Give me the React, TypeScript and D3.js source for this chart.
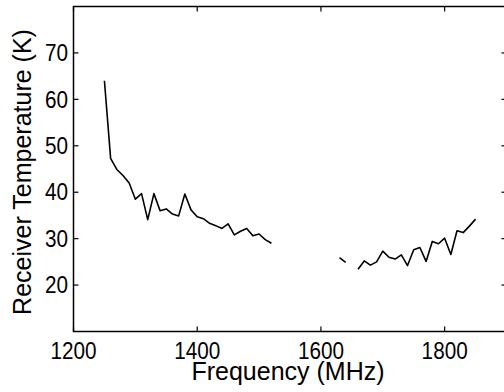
import React, { useRef, useEffect } from 'react';
import * as d3 from 'd3';

// frequency (MHz) and receiver temperature (K); null marks a gap in the measurement
const freqs = [
  1250, 1260, 1270, 1280, 1290, 1300, 1310, 1320, 1330, 1340, 1350, 1360, 1370, 1380,
  1390, 1400, 1410, 1420, 1430, 1440, 1450, 1460, 1470, 1480, 1490, 1500, 1510, 1520,
  1530, 1630, 1640, 1650, 1660, 1670, 1680, 1690, 1700, 1710, 1720, 1730, 1740, 1750,
  1760, 1770, 1780, 1790, 1800, 1810, 1820, 1830, 1840, 1850,
];
const temps: (number | null)[] = [
  64.0, 47.3, 44.9, 43.6, 42.0, 38.5, 39.7, 34.1, 39.7, 36.0, 36.4, 35.3, 34.9, 39.6,
  36.2, 34.7, 34.3, 33.3, 32.8, 32.2, 33.2, 30.8, 31.6, 32.2, 30.6, 31.0, 29.8, 29.0,
  null, 25.9, 24.9, null, 23.4, 25.2, 24.3, 25.0, 27.3, 26.0, 25.6, 26.5, 24.2, 27.6,
  28.1, 25.1, 29.4, 28.9, 30.1, 26.6, 31.7, 31.3, 32.7, 34.2,
];

const xTicks = [1200, 1400, 1600, 1800];
const yTicks = [20, 30, 40, 50, 60, 70];

const width = 504;
const height = 392;
const font = '"Liberation Sans", Arial, Helvetica, sans-serif';

const App = () => {
  const svgRef = useRef<SVGSVGElement>(null);

  useEffect(() => {
    const margin = { top: 6.5, right: -2.5, bottom: 60.5, left: 73.5 };
    const innerWidth = width - margin.left - margin.right;
    const innerHeight = height - margin.top - margin.bottom;

    const root = d3.select(svgRef.current);
    root.selectAll('*').remove();

    const svg = root.append('g')
      .attr('transform', `translate(${margin.left},${margin.top})`);

    const x = d3.scaleLinear().domain([1200, 1900]).range([0, innerWidth]);
    const y = d3.scaleLinear().domain([10, 80]).range([innerHeight, 0]);

    // box
    svg.append('rect')
      .attr('width', innerWidth)
      .attr('height', innerHeight)
      .attr('fill', 'none')
      .attr('stroke', '#000')
      .attr('stroke-width', 1.5);

    // ticks pointing inward on all sides
    const tickLen = 5;
    xTicks.forEach(t => {
      svg.append('line')
        .attr('x1', x(t)).attr('x2', x(t))
        .attr('y1', innerHeight).attr('y2', innerHeight - tickLen)
        .attr('stroke', '#000').attr('stroke-width', 1.2);
      svg.append('line')
        .attr('x1', x(t)).attr('x2', x(t))
        .attr('y1', 0).attr('y2', tickLen)
        .attr('stroke', '#000').attr('stroke-width', 1.2);
      svg.append('text')
        .attr('x', x(t))
        .attr('y', innerHeight + 27.5)
        .attr('text-anchor', 'middle')
        .attr('font-family', font)
        .attr('font-size', 23)
        .attr('transform', `translate(${x(t)},0) scale(0.9,1) translate(${-x(t)},0)`)
        .text(t);
    });
    yTicks.forEach(t => {
      svg.append('line')
        .attr('x1', 0).attr('x2', tickLen)
        .attr('y1', y(t)).attr('y2', y(t))
        .attr('stroke', '#000').attr('stroke-width', 1.2);
      svg.append('line')
        .attr('x1', innerWidth).attr('x2', innerWidth - tickLen)
        .attr('y1', y(t)).attr('y2', y(t))
        .attr('stroke', '#000').attr('stroke-width', 1.2);
      svg.append('text')
        .attr('x', -5.5)
        .attr('y', y(t))
        .attr('dy', '0.36em')
        .attr('text-anchor', 'end')
        .attr('font-family', font)
        .attr('font-size', 23)
        .attr('transform', `translate(-5.5,0) scale(0.9,1) translate(5.5,0)`)
        .text(t);
    });

    // the curve
    const data = freqs.map((f, i) => ({ f, t: temps[i] }));
    svg.append('path')
      .datum(data)
      .attr('fill', 'none')
      .attr('stroke', '#000')
      .attr('stroke-width', 1.6)
      .attr('stroke-linejoin', 'round')
      .attr('d', d3.line<{ f: number; t: number | null }>()
        .defined(d => d.t !== null)
        .x(d => x(d.f))
        .y(d => y(d.t as number)));

    // axis labels
    svg.append('text')
      .attr('x', (x(1200) + x(1900)) / 2 - 2)
      .attr('y', innerHeight + 48.5)
      .attr('text-anchor', 'middle')
      .attr('font-family', font)
      .attr('font-size', 25)
      .text('Frequency (MHz)');

    svg.append('text')
      .attr('transform', `translate(${31 - margin.left},${innerHeight / 2 + 3}) rotate(-90)`)
      .attr('text-anchor', 'middle')
      .attr('font-family', font)
      .attr('font-size', 25)
      .text('Receiver Temperature (K)');
  }, []);

  return (
    <svg
      ref={svgRef}
      width={width}
      height={height}
      style={{ position: 'absolute', left: 0, top: 0, background: '#fff' }}
    />
  );
};

export default App;
